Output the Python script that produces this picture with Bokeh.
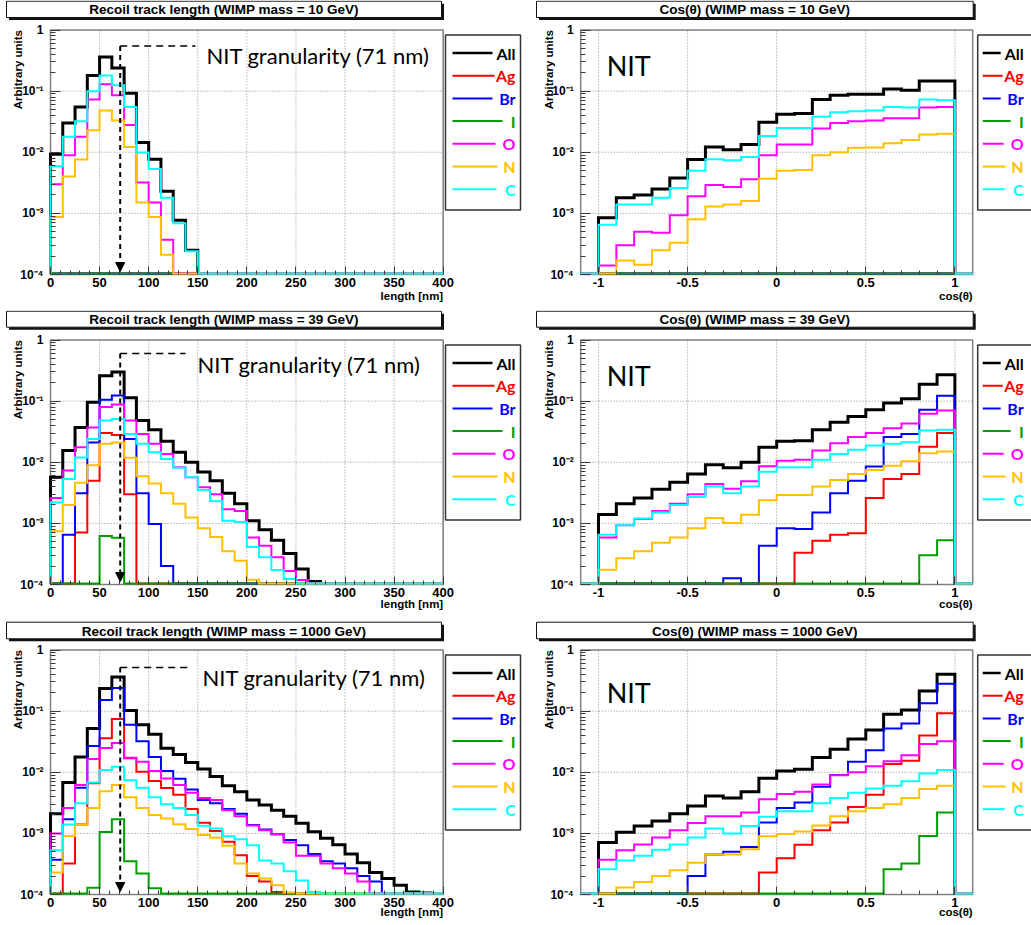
import math
import numpy as np
from bokeh.plotting import figure
from bokeh.models import Range1d, FixedTicker, Arrow, NormalHead, CustomJSTickFormatter
from bokeh.layouts import row, column
from bokeh.embed import file_html
from bokeh.resources import INLINE
from bokeh.core.properties import value

# ------------------------------------------------------------------ data
SERIES = ["All", "Ag", "Br", "I", "O", "N", "C"]
COLORS = ["#000000", "#ff0000", "#0000ff", "#00a000", "#ff00ff", "#ffc000", "#00ffff"]

MASSES = ["10", "39", "1000"]

# track length histograms, 32 bins of 12.5 nm from 0 to 400 nm
len10_all = [0.0093, 0.030, 0.055, 0.18, 0.36, 0.24, 0.092, 0.0145, 0.0077, 0.0023, 0.00077, 0.00025,
             0, 0, 0, 0, 0, 0, 0, 0, 0, 0, 0, 0, 0, 0, 0, 0, 0, 0, 0, 0]
len10_ag = [0, 0, 0, 0, 0, 0, 0, 0, 0, 0, 0, 0, 0, 0, 0, 0,
            0, 0, 0, 0, 0, 0, 0, 0, 0, 0, 0, 0, 0, 0, 0, 0]
len10_br = [0, 0, 0, 0, 0, 0, 0, 0, 0, 0, 0, 0, 0, 0, 0, 0,
            0, 0, 0, 0, 0, 0, 0, 0, 0, 0, 0, 0, 0, 0, 0, 0]
len10_i = [0, 0, 0, 0, 0, 0, 0, 0, 0, 0, 0, 0, 0, 0, 0, 0,
           0, 0, 0, 0, 0, 0, 0, 0, 0, 0, 0, 0, 0, 0, 0, 0]
len10_o = [0.0030, 0.0089, 0.018, 0.073, 0.13, 0.086, 0.028, 0.0032, 0.0015, 0.00037,
           0, 0, 0, 0, 0, 0, 0, 0, 0, 0, 0, 0, 0, 0, 0, 0, 0, 0, 0, 0, 0, 0]
len10_n = [0.00087, 0.0040, 0.0076, 0.023, 0.048, 0.033, 0.0122, 0.0015, 0.00087, 0.00021,
           0, 0, 0, 0, 0, 0, 0, 0, 0, 0, 0, 0, 0, 0, 0, 0, 0, 0, 0, 0, 0, 0]
len10_c = [0.0059, 0.018, 0.032, 0.10, 0.18, 0.125, 0.055, 0.0099, 0.0053, 0.0018, 0.00069, 0.00024,
           0, 0, 0, 0, 0, 0, 0, 0, 0, 0, 0, 0, 0, 0, 0, 0, 0, 0, 0, 0]

len39_all = [0.0057, 0.0155, 0.037, 0.096, 0.26, 0.30, 0.114, 0.048, 0.034, 0.022, 0.0146, 0.010,
             0.0069, 0.0050, 0.0031, 0.0021, 0.0011, 0.00079, 0.00053, 0.00032, 0.00018, 0.000112,
             0, 0, 0, 0, 0, 0, 0, 0, 0, 0]
len39_ag = [0, 0, 0.00071, 0.005, 0.030, 0.028, 0.0030, 0, 0, 0, 0, 0, 0, 0, 0, 0,
            0, 0, 0, 0, 0, 0, 0, 0, 0, 0, 0, 0, 0, 0, 0, 0]
len39_br = [0, 0.00065, 0.0031, 0.021, 0.105, 0.124, 0.024, 0.0031, 0.00098, 0.0002, 0, 0, 0, 0, 0, 0,
            0, 0, 0, 0, 0, 0, 0, 0, 0, 0, 0, 0, 0, 0, 0, 0]
len39_i = [0, 0, 0, 0, 0.00062, 0.00058, 0, 0, 0, 0, 0, 0, 0, 0, 0, 0,
           0, 0, 0, 0, 0, 0, 0, 0, 0, 0, 0, 0, 0, 0, 0, 0]
len39_o = [0.0026, 0.0073, 0.0176, 0.037, 0.080, 0.088, 0.048, 0.029, 0.020, 0.0137, 0.0083, 0.0057,
           0.0039, 0.0030, 0.0017, 0.0016, 0.00059, 0.00043, 0.00028, 0.000167, 0.000118,
           0, 0, 0, 0, 0, 0, 0, 0, 0, 0, 0]
len39_n = [0.00074, 0.0020, 0.0046, 0.0089, 0.020, 0.021, 0.0118, 0.0059, 0.0045, 0.0031, 0.0021, 0.00125,
           0.00083, 0.0006, 0.00035, 0.000245, 0.00012, 0,
           0, 0, 0, 0, 0, 0, 0, 0, 0, 0, 0, 0, 0, 0]
len39_c = [0.0022, 0.0053, 0.012, 0.024, 0.048, 0.051, 0.029, 0.020, 0.0146, 0.0113, 0.0081, 0.0057,
           0.0035, 0.0023, 0.0011, 0.00105, 0.00041, 0.00028, 0.000173, 0.000123, 0,
           0, 0, 0, 0, 0, 0, 0, 0, 0, 0, 0]

len1000_all = [0.0021, 0.0068, 0.0178, 0.052, 0.235, 0.36, 0.102, 0.060, 0.042, 0.0246, 0.0195, 0.0144,
               0.0113, 0.0085, 0.0060, 0.0048, 0.0035, 0.0029, 0.0024, 0.0019, 0.00146, 0.00106,
               0.00083, 0.00065, 0.00046, 0.00033, 0.00023, 0.000183, 0.000142, 0.000110, 0.000106, 0]
len1000_ag = [0, 0.00032, 0.0014, 0.0066, 0.036, 0.074, 0.017, 0.0102, 0.0072, 0.0055, 0.0043, 0.0025,
              0.00149, 0.00109, 0.00073, 0.00044, 0.0002, 0.000163, 0.000110,
              0, 0, 0, 0, 0, 0, 0, 0, 0, 0, 0, 0, 0]
len1000_br = [0.00037, 0.0017, 0.0056, 0.027, 0.152, 0.24, 0.060, 0.032, 0.0178, 0.0105, 0.0078, 0.0052,
              0.0035, 0.0031, 0.0025, 0.0021, 0.00137, 0.00116, 0.00097, 0.00078, 0.00064, 0.00046,
              0.00035, 0.00032, 0.00027, 0.0002, 0.000163, 0, 0, 0, 0, 0]
len1000_i = [0, 0, 0, 0.000129, 0.00105, 0.0017, 0.00035, 0.00022, 0.000126, 0, 0, 0, 0, 0, 0, 0,
             0, 0, 0, 0, 0, 0, 0, 0, 0, 0, 0, 0, 0, 0, 0, 0]
len1000_o = [0.001, 0.0026, 0.0062, 0.0165, 0.025, 0.030, 0.0173, 0.0149, 0.0105, 0.0079, 0.0062, 0.0046,
             0.0038, 0.0035, 0.0024, 0.0019, 0.00134, 0.00113, 0.00097, 0.00071, 0.00043, 0.00043,
             0.00032, 0.00027, 0.00022, 0.000163, 0.000106, 0, 0, 0, 0, 0]
len1000_n = [0.00023, 0.00091, 0.00138, 0.0026, 0.0049, 0.0062, 0.0039, 0.0026, 0.0020, 0.00175, 0.00141,
             0.00118, 0.00094, 0.00085, 0.00063, 0.00032, 0.00022, 0.000183, 0.000142, 0.000108,
             0, 0, 0, 0, 0, 0, 0, 0, 0, 0, 0, 0]
len1000_c = [0.00053, 0.0014, 0.0031, 0.0068, 0.0109, 0.0123, 0.0074, 0.0056, 0.0039, 0.0030, 0.0026,
             0.0020, 0.00133, 0.0012, 0.0009, 0.0008, 0.00064, 0.00036, 0.00032, 0.00024, 0.00017, 0.00011,
             0, 0, 0, 0, 0, 0, 0, 0, 0, 0]

# cos(theta) histograms, 22 bins of 0.1 from -1.1 to 1.1
cos10_all = [0, 0.00085, 0.0018, 0.0020, 0.0025, 0.0038, 0.0076, 0.0122, 0.011, 0.0134, 0.031,
             0.042, 0.043, 0.073, 0.086, 0.089, 0.089, 0.108, 0.103, 0.146, 0.146, 0]
cos10_ag = [0, 0, 0, 0, 0, 0, 0, 0, 0, 0, 0, 0, 0, 0, 0, 0, 0, 0, 0, 0, 0, 0]
cos10_br = [0, 0, 0, 0, 0, 0, 0, 0, 0, 0, 0, 0, 0, 0, 0, 0, 0, 0, 0, 0, 0, 0]
cos10_i = [0, 0, 0, 0, 0, 0, 0, 0, 0, 0, 0, 0, 0, 0, 0, 0, 0, 0, 0, 0, 0, 0]
cos10_o = [0, 0.00014, 0.0003, 0.0005, 0.00048, 0.00093, 0.0019, 0.0029, 0.0027, 0.0036, 0.0089,
           0.0134, 0.0134, 0.0245, 0.030, 0.032, 0.033, 0.036, 0.036, 0.054, 0.055, 0]
cos10_n = [0, 0, 0.00017, 0.000145, 0.00025, 0.00033, 0.0008, 0.0013, 0.0014, 0.0016, 0.0037,
           0.0050, 0.0051, 0.0089, 0.010, 0.0118, 0.012, 0.014, 0.0158, 0.0195, 0.020, 0]
cos10_c = [0, 0.00065, 0.0014, 0.0014, 0.0018, 0.0026, 0.0050, 0.0077, 0.0074, 0.0084, 0.0185,
           0.025, 0.025, 0.038, 0.045, 0.047, 0.048, 0.055, 0.054, 0.073, 0.071, 0]

cos39_all = [0, 0.0014, 0.0021, 0.0026, 0.0036, 0.0047, 0.0064, 0.0091, 0.0081, 0.010, 0.0176,
             0.022, 0.0225, 0.034, 0.045, 0.056, 0.072, 0.093, 0.109, 0.188, 0.27, 0]
cos39_ag = [0, 0, 0, 0, 0, 0, 0, 0, 0, 0, 0, 0, 0.00033, 0.00052, 0.00065, 0.00069, 0.0026, 0.0053,
            0.0064, 0.018, 0.030, 0]
cos39_br = [0, 0, 0, 0, 0, 0, 0, 0, 0.000126, 0, 0.00043, 0.00083, 0.00081, 0.0015, 0.0031, 0.0050,
            0.0085, 0.026, 0.029, 0.072, 0.122, 0]
cos39_i = [0, 0, 0, 0, 0, 0, 0, 0, 0, 0, 0, 0, 0, 0, 0, 0, 0, 0, 0, 0.0003, 0.00053, 0]
cos39_o = [0, 0.00059, 0.00093, 0.00118, 0.0016, 0.0021, 0.0030, 0.0044, 0.0037, 0.0049, 0.0086,
           0.0106, 0.011, 0.0155, 0.0205, 0.026, 0.030, 0.036, 0.043, 0.062, 0.070, 0]
cos39_n = [0, 0.000174, 0.00027, 0.00035, 0.00048, 0.00059, 0.00083, 0.00122, 0.00101, 0.00138, 0.0024,
           0.0029, 0.0029, 0.0040, 0.0051, 0.0064, 0.0075, 0.0088, 0.0104, 0.0141, 0.0150, 0]
cos39_c = [0, 0.00065, 0.00093, 0.0012, 0.0015, 0.0020, 0.0027, 0.0040, 0.0031, 0.0040, 0.0070,
           0.0083, 0.0083, 0.011, 0.0137, 0.0160, 0.0188, 0.020, 0.0213, 0.033, 0.034, 0]

cos1000_all = [0, 0.00071, 0.00104, 0.00132, 0.0016, 0.0021, 0.0028, 0.0041, 0.0038, 0.0048, 0.0080,
               0.0105, 0.0112, 0.0174, 0.0237, 0.035, 0.049, 0.089, 0.104, 0.213, 0.40, 0]
cos1000_ag = [0, 0, 0, 0, 0, 0, 0, 0, 0, 0, 0.00023, 0.00039, 0.00065, 0.00112, 0.0015, 0.0027,
              0.0043, 0.0136, 0.0154, 0.040, 0.092, 0]
cos1000_br = [0, 0, 0, 0, 0, 0, 0.0002, 0.00045, 0.0005, 0.0006, 0.0015, 0.0026, 0.0032, 0.0058,
              0.0090, 0.0149, 0.023, 0.052, 0.063, 0.134, 0.28, 0]
cos1000_i = [0, 0, 0, 0, 0, 0, 0, 0, 0, 0, 0, 0, 0, 0, 0, 0, 0, 0.00026, 0.00032, 0.00091, 0.0022, 0]
cos1000_o = [0, 0.00037, 0.00053, 0.00066, 0.00086, 0.00112, 0.00148, 0.0019, 0.0019, 0.0022, 0.0036,
             0.0044, 0.0048, 0.0063, 0.0089, 0.010, 0.0125, 0.0151, 0.019, 0.029, 0.032, 0]
cos1000_n = [0, 0, 0.00013, 0.00016, 0.0002, 0.00025, 0.00033, 0.00045, 0.00045, 0.00055, 0.0009,
             0.00098, 0.00107, 0.00134, 0.0019, 0.0023, 0.0026, 0.0030, 0.0038, 0.0053, 0.0060, 0]
cos1000_c = [0, 0.00026, 0.00036, 0.00043, 0.00054, 0.00066, 0.00086, 0.0012, 0.0010, 0.00132, 0.00187,
             0.0023, 0.0023, 0.0031, 0.0038, 0.0046, 0.0054, 0.0060, 0.0071, 0.0095, 0.0109, 0]

LEN_SETS = [
    [len10_all, len10_ag, len10_br, len10_i, len10_o, len10_n, len10_c],
    [len39_all, len39_ag, len39_br, len39_i, len39_o, len39_n, len39_c],
    [len1000_all, len1000_ag, len1000_br, len1000_i, len1000_o, len1000_n, len1000_c],
]
COS_SETS = [
    [cos10_all, cos10_ag, cos10_br, cos10_i, cos10_o, cos10_n, cos10_c],
    [cos39_all, cos39_ag, cos39_br, cos39_i, cos39_o, cos39_n, cos39_c],
    [cos1000_all, cos1000_ag, cos1000_br, cos1000_i, cos1000_o, cos1000_n, cos1000_c],
]

LEN_EDGES = np.linspace(0.0, 400.0, 33)
COS_EDGES = np.linspace(-1.1, 1.1, 23)
GRANULARITY_NM = 71

# ------------------------------------------------------------------ styling / layout (pixels)
ROOT_FONT = "Liberation Sans"
OFFICE_FONT = "Lato"
LINE_W = [3, 2, 2, 2, 2, 2, 2]
FLOOR = 1.04e-4

ROW_H = [310, 310, 304]
FRAME_T = 29.5
FRAME_H = 244.5
TITLE_Y = [(-28.8, -12.5), (-28.8, -12.8), (-27.8, -11.2)]
ARROW_TOP = [16, 13.5, 17.5]
HLINE_END = [145, 135, 139]
GRAN_TXT_X = [156, 147, 152]
GRAN_TXT_BASE = [25, 24, 27]
NIT_BASE = [35.5, 35.5, 42.5]
XLABEL_DY = [21, 19, 17.5]

LEG_TOP, LEG_BOT = 5, 180
LEG_FIRST, LEG_STEP = 18, 22.7
LEG_LEFT = dict(x0=2.3, x1=77.3, ls=7, le=[47, 49, 47, 57, 50, 52, 51], tr=70)
LEG_RIGHT = dict(x0=5, x1=90, ls=5, le=[23, 25, 23, 33, 26, 28, 27], tr=46)


def hist_path(edges, vals):
    assert len(vals) == len(edges) - 1
    v = np.maximum(np.asarray(vals, dtype=float), FLOOR)
    xs = np.repeat(edges, 2)
    ys = np.concatenate([[FLOOR], np.repeat(v, 2), [FLOOR]])
    return xs, ys


Y_FORMAT_CODE = """
const e = Math.round(Math.log10(tick));
if (e === 0) { return "1"; }
const sup = {"-": "\u207b", "0": "\u2070", "1": "\u00b9", "2": "\u00b2", "3": "\u00b3", "4": "\u2074"};
let s = "";
for (const c of String(e)) { s += sup[c]; }
return "10" + s;
"""


def txt(p, x, y, s, font, size, color="black", style="normal", align="left",
        baseline="middle", angle=0.0):
    p.text(x=[x], y=[y], text=[s], text_font=value(font), text_font_size=size,
           text_font_style=style, text_color=color, text_align=align,
           text_baseline=baseline, angle=angle)


def make_panel(kind, r, sets, title):
    is_len = kind == "len"
    if is_len:
        W, BL, FW, x0, x1, edges = 525, 50.0, 392.7, 0.0, 400.0, LEN_EDGES
    else:
        W, BL, FW, x0, x1, edges = 506, 55.2, 392.0, -1.1, 1.1, COS_EDGES
    H, T, FH = ROW_H[r], FRAME_T, FRAME_H

    def XF(dx):  # pixels right of the plot frame's left edge -> data x
        return x0 + dx * (x1 - x0) / FW

    def YF(dy):  # pixels below the plot frame's top edge -> data y (log)
        return 10 ** (-4.0 * dy / FH)

    p = figure(width=W, height=H, x_range=Range1d(XF(-BL), XF(W - BL)),
               y_range=Range1d(YF(H - T), YF(-T)), y_axis_type="log",
               output_backend="svg", toolbar_location=None, title=None, min_border=0,
               background_fill_color="white", border_fill_color="white",
               outline_line_color=None)
    p.grid.visible = False

    # grid lines at the major ticks
    if is_len:
        majors = list(range(0, 401, 50))
        minors = [v for v in range(0, 401, 10) if v % 50]
    else:
        majors = [-1.0, -0.5, 0.0, 0.5, 1.0]
        minors = [round(-1.0 + 0.1 * i, 2) for i in range(21)]
        minors = [m for m in minors if min(abs(m - t) for t in majors) > 1e-6]
    ymaj = [1e-4, 1e-3, 1e-2, 1e-1, 1.0]
    p.segment(x0=majors, y0=[1e-4] * len(majors), x1=majors, y1=[1.0] * len(majors),
              line_color="#8c8c8c", line_width=1, line_dash="1 2")
    p.segment(x0=[x0] * 3, y0=ymaj[1:4], x1=[x1] * 3, y1=ymaj[1:4],
              line_color="#8c8c8c", line_width=1, line_dash="1 2")
    # plot frame
    p.quad(left=[x0], right=[x1], bottom=[1e-4], top=[1.0], fill_color=None,
           line_color="#808080", line_width=1.5)

    # histograms
    for vals, col, lw in zip(sets, COLORS, LINE_W):
        xs, ys = hist_path(edges, vals)
        p.line(xs, ys, line_color=col, line_width=lw, line_join="miter")

    # axes placed on the plot frame
    xt = FixedTicker(ticks=majors, minor_ticks=minors)
    yt = FixedTicker(ticks=ymaj, minor_ticks=[k * 10.0 ** e for e in range(-4, 0) for k in range(2, 10)])
    p.xaxis.ticker = xt
    p.yaxis.ticker = yt
    p.xaxis.fixed_location = 1e-4
    p.yaxis.fixed_location = x0
    p.xaxis.bounds = (x0, x1)
    p.yaxis.bounds = (1e-4, 1.0)
    p.yaxis.formatter = CustomJSTickFormatter(code=Y_FORMAT_CODE)
    if not is_len:
        p.xaxis.formatter = CustomJSTickFormatter(code="return String(Math.round(tick*10)/10);")
    for ax in (p.xaxis, p.yaxis):
        ax.axis_line_color = None
        ax.major_tick_line_color = "#3a3a3a"
        ax.minor_tick_line_color = "#3a3a3a"
        ax.major_tick_out = 0
        ax.minor_tick_out = 0
        ax.major_label_text_font = ROOT_FONT
        ax.major_label_text_font_style = "bold"
        ax.major_label_text_color = "black"
    p.xaxis.major_label_text_font_size = "13px"
    p.yaxis.major_label_text_font_size = "12px"
    p.xaxis.major_tick_in = 8
    p.xaxis.minor_tick_in = 4
    p.yaxis.major_tick_in = 10
    p.yaxis.minor_tick_in = 5
    p.xaxis.major_label_standoff = 3
    p.yaxis.major_label_standoff = 7

    # title box with shadow
    bx0, bx1 = (-44.0, 391.0) if is_len else (-44.2, 392.5)
    ty0, ty1 = TITLE_Y[r]
    p.quad(left=[XF(bx0 + 2.5)], right=[XF(bx1 + 2.5)], top=[YF(ty0 + 2.5)], bottom=[YF(ty1 + 2.5)],
           fill_color="#111111", line_color=None)
    p.quad(left=[XF(bx0)], right=[XF(bx1)], top=[YF(ty0)], bottom=[YF(ty1)],
           fill_color="white", line_color="#111111", line_width=1)
    txt(p, XF((bx0 + bx1) / 2), YF((ty0 + ty1) / 2 + 0.5), title, ROOT_FONT, "13.5px",
        style="bold", align="center")

    # axis titles
    txt(p, XF(-33 if is_len else -32), YF(0), "Arbitrary units", ROOT_FONT, "11.5px",
        style="bold", align="right", angle=math.pi / 2)
    txt(p, XF(FW), YF(FH + XLABEL_DY[r]), "length [nm]" if is_len else "cos(\u03b8)",
        ROOT_FONT, "11.5px", style="bold", align="right")

    # legend
    lg = LEG_LEFT if is_len else LEG_RIGHT
    lx0 = FW + lg["x0"]
    p.quad(left=[XF(lx0)], right=[XF(FW + lg["x1"])], top=[YF(LEG_TOP)], bottom=[YF(LEG_BOT)],
           fill_color="white", line_color="#333333", line_width=1.5)
    ys = [YF(LEG_TOP + LEG_FIRST + LEG_STEP * i) for i in range(len(SERIES))]
    p.segment(x0=[XF(lx0 + lg["ls"])] * len(SERIES), y0=ys,
              x1=[XF(lx0 + e) for e in lg["le"]], y1=ys,
              line_color=COLORS, line_width=[2.5] + [2] * (len(SERIES) - 1))
    p.text(x=[XF(lx0 + lg["tr"])] * len(SERIES), y=ys, text=SERIES, text_color=COLORS,
           text_align="right", text_baseline="middle", text_font=value(OFFICE_FONT),
           text_font_style="bold", text_font_size="16px")

    # annotations
    if is_len:
        ytop = YF(ARROW_TOP[r])
        p.add_layout(Arrow(end=NormalHead(size=9, fill_color="black", line_color="black", line_width=1),
                           x_start=GRANULARITY_NM, y_start=ytop, x_end=GRANULARITY_NM, y_end=YF(FH - 3),
                           line_color="black", line_width=2, line_dash="5 4"))
        p.line([GRANULARITY_NM, XF(HLINE_END[r])], [ytop, ytop], line_color="black",
               line_width=1.5, line_dash="7 5")
        txt(p, XF(GRAN_TXT_X[r]), YF(GRAN_TXT_BASE[r]), "NIT granularity (%d nm)" % GRANULARITY_NM,
            OFFICE_FONT, "22px", baseline="alphabetic")
    else:
        txt(p, XF(26), YF(NIT_BASE[r]), "NIT", OFFICE_FONT, "27px", baseline="alphabetic")
    return p


rows = []
for r, m in enumerate(MASSES):
    pl = make_panel("len", r, LEN_SETS[r], "Recoil track length (WIMP mass = %s GeV)" % m)
    pr = make_panel("cos", r, COS_SETS[r], "Cos(\u03b8) (WIMP mass = %s GeV)" % m)
    rows.append(row(pl, pr))

layout = column(*rows)
open("out.html", "w").write(file_html(layout, INLINE))
